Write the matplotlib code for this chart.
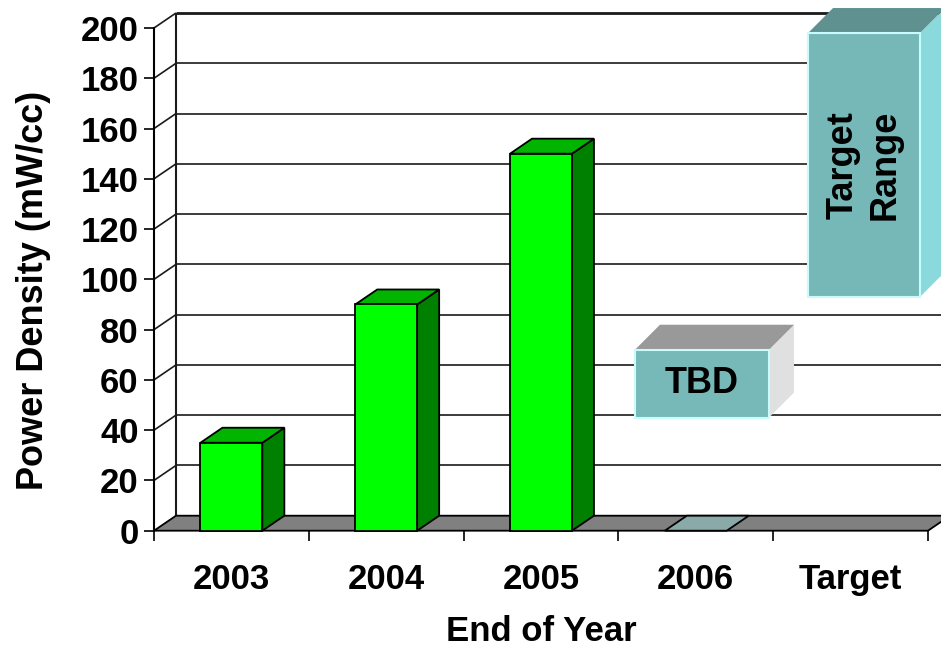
import matplotlib
matplotlib.use("Agg")
import matplotlib.pyplot as plt
from matplotlib.patches import Polygon

plt.rcParams['font.family'] = ['Liberation Sans', 'DejaVu Sans']
plt.rcParams['font.weight'] = 'bold'

# ---- data ----
categories = ["2003", "2004", "2005", "2006", "Target"]
power_density = [35, 90, 150, 0, None]   # mW/cc, end of year
tbd_range = (45, 72)                     # projected 2006 band (mW/cc)
target_range = (93, 198)                 # target band (mW/cc)
y_ticks = list(range(0, 201, 20))

# ---- styling ----
W, H, DPI = 941, 650, 100
front_c, side_c, top_c = "#00ff00", "#008000", "#00b400"
floor_c = "#808080"
grid_c = "#1a1a1a"

fig = plt.figure(figsize=(W / DPI, H / DPI), dpi=DPI, facecolor="white")
# axes frame = front plane of the 3-D box
x0, x1, y0, y1 = 154, 928, 530.7, 28
ax = fig.add_axes([x0 / W, (H - y0) / H, (x1 - x0) / W, (y0 - y1) / H])
ax.set_xlim(0, len(categories))
ax.set_ylim(0, 200)
ax.patch.set_visible(False)

# depth offsets (data units) for the chart box and for the floating boxes
px_x = (x1 - x0) / len(categories)
px_y = (y0 - y1) / 200.0
dx, dy = 22 / px_x, 15 / px_y
bdx, bdy = 25 / px_x, 25 / px_y
xmax = len(categories)

def poly(pts, fc, ec="black", lw=1.3, z=2):
    ax.add_patch(Polygon(pts, closed=True, facecolor=fc, edgecolor=ec,
                         linewidth=lw, zorder=z, clip_on=False,
                         joinstyle="miter"))

def line(xs, ys, lw=1.2, z=1, c=grid_c):
    ax.plot(xs, ys, color=c, lw=lw, zorder=z, clip_on=False,
            solid_capstyle="butt")

# back wall gridlines and side-wall connectors
for v in y_ticks[1:]:
    line([dx, xmax + dx + 0.2], [v + dy, v + dy], lw=2.0 if v == 200 else 1.2)
    line([0, dx], [v, v + dy])
line([dx, dx], [dy, 200 + dy], lw=1.5)

# floor
poly([(0, 0), (xmax, 0), (xmax + dx, dy), (dx, dy)], floor_c, z=2)

# bars
bw = 0.4
for i, v in enumerate(power_density):
    if v is None:
        continue
    l, r = i + 0.5 - bw / 2, i + 0.5 + bw / 2
    if v == 0:
        poly([(l, 0), (r, 0), (r + dx, dy), (l + dx, dy)], "#8aaaaa", z=3)
        continue
    poly([(r, 0), (r + dx, dy), (r + dx, v + dy), (r, v)], side_c, z=3)
    poly([(l, v), (r, v), (r + dx, v + dy), (l + dx, v + dy)], top_c, z=3)
    poly([(l, 0), (r, 0), (r, v), (l, v)], front_c, z=4)

# floating annotation boxes
def box(xl, xr, lo, hi, front, top, side, text, **kw):
    poly([(xr, lo), (xr + bdx, lo + bdy), (xr + bdx, hi + bdy), (xr, hi)],
         side, ec="none", z=5)
    poly([(xl, hi), (xr, hi), (xr + bdx, hi + bdy), (xl + bdx, hi + bdy)],
         top, ec="none", z=5)
    poly([(xl, lo), (xr, lo), (xr, hi), (xl, hi)], front, ec="#c8fbfb",
         lw=1.5, z=6)
    ax.text((xl + xr) / 2, (lo + hi) / 2, text, ha="center", va="center",
            fontweight="bold", zorder=7, clip_on=False, **kw)

box(3.107, 3.973, *tbd_range, "#77b9b9", "#999999", "#e0e0e0", "TBD",
    fontsize=26)
box(4.225, 4.948, *target_range, "#76b8b8", "#5f9191", "#8ad9dd",
    "Target\nRange", fontsize=26, rotation=90, linespacing=1.25)

# axes, ticks and labels
for s in ("top", "right", "bottom"):
    ax.spines[s].set_visible(False)
ax.spines["left"].set_linewidth(1.5)
ax.spines["left"].set_zorder(8)

ax.set_yticks(y_ticks)
ax.set_yticklabels([str(v) for v in y_ticks])
ax.tick_params(axis="y", direction="out", length=7, width=1.2, pad=4,
               labelsize=25)

ax.set_xticks(range(len(categories) + 1))
ax.set_xticklabels([])
ax.set_xticks([i + 0.5 for i in range(len(categories))], minor=True)
ax.set_xticklabels(categories, minor=True)
ax.tick_params(axis="x", which="major", direction="out", length=7.5,
               width=1.2)
ax.tick_params(axis="x", which="minor", length=0, pad=23, labelsize=25)

ax.set_xlabel("End of Year", fontsize=25, fontweight="bold")
ax.xaxis.set_label_coords(0.5, -0.168)
ax.set_ylabel("Power Density (mW/cc)", fontsize=26, fontweight="bold")
ax.yaxis.set_label_coords(-0.133, 0.477)

fig.savefig("out.png", dpi=DPI, facecolor="white")
